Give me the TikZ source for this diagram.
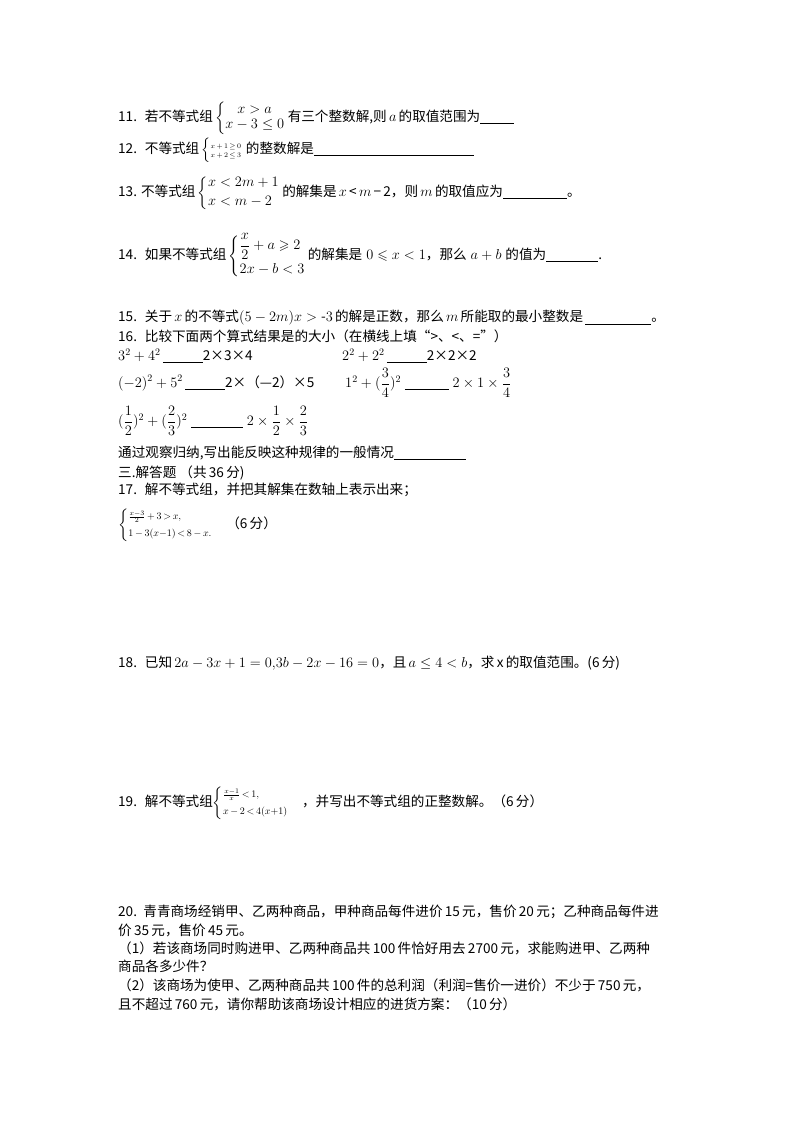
\documentclass[tikz,border=0pt]{standalone}
\usepackage{amsmath,amssymb}
\usepackage{fontspec}
\setmainfont{Noto Sans CJK SC}
\newcommand{\blank}[1]{\underline{\hspace{#1pt}}}
\begin{document}
\begin{tikzpicture}[x=1pt,y=-1pt,
  line/.style={anchor=west,inner sep=0pt,font=\fontsize{13.6}{15}\selectfont}]
\useasboundingbox (0,0) rectangle (800,1132);

\node[line] (q11) at (118,118) {11.\; 若不等式组\,$\left\{\begin{array}{@{}l@{}}\;\;\; x>a\\ x-3\le 0\end{array}\right.$\,有三个整数解,则\,$a$\,的取值范围为\blank{34}};
\node[line] (q12) at (118,150) {12.\; 不等式组\,$\left\{\begin{array}{@{}l@{}}\scriptscriptstyle x\,+\,1\,\ge\, 0\\[-6pt] \scriptscriptstyle x\,+\,2\,\le\, 3\end{array}\right.$\;的整数解是\blank{160}};
\node[line] (q13) at (118,193) {13. 不等式组\,$\left\{\begin{array}{@{}l@{}}x<2m+1\\[4pt] x<m-2\end{array}\right.$\,的解集是\,$x$\,<\,$m$\,−\,2，则\,$m$\,的取值应为\blank{64}。};
\node[line] (q14) at (118,256) {14.\; 如果不等式组\,$\left\{\begin{array}{@{}l@{}}\dfrac{x}{2}+a\geqslant 2\\[9pt] 2x-b<3\end{array}\right.$\,的解集是$\;0\leqslant x<1$，那么$\;a+b\;$的值为\blank{52}.};

\node[line] (q15) at (118,318) {15.\; 关于\,$x$\,的不等式$(5-2m)x>\text{-}3$\,的解是正数，那么\,$m$\,所能取的最小整数是\,\blank{66}。};
\node[line] (q16) at (118,336) {16.\; 比较下面两个算式结果是的大小（在横线上填“>、<、=”）};
\node[line] (r1a) at (118,356) {$3^2+4^2$\,\blank{40}2×3×4};
\node[line] (r1b) at (342,356) {$2^2+2^2$\,\blank{40}2×2×2};
\node[line] (r2a) at (118,383) {$(-2)^2+5^2$\,\blank{40}2×（—2）×5};
\node[line] (r2b) at (345,383) {$1^2+(\dfrac34)^2$\;\blank{44}\;$2\times1\times\dfrac34$};
\node[line] (r3) at (118,421) {$(\dfrac12)^2+(\dfrac23)^2$\;\blank{52}\;$2\times\dfrac12\times\dfrac23$};
\node[line] (q16b) at (118,453) {通过观察归纳,写出能反映这种规律的一般情况\blank{72}};
\node[line] (sec3) at (118,473) {三.解答题 （共\,36\,分)};
\node[line] (q17) at (118,490) {17.\; 解不等式组，并把其解集在数轴上表示出来；};
\node[line] (q17s) at (118,525) {$\left\{\begin{array}{@{}l@{}}\scriptstyle\frac{x-3}{2}\,+\,3\,>\,x,\\[2pt] \scriptstyle 1\,-\,3(x-1)\,<\,8\,-\,x.\end{array}\right.$\quad（6\,分）};

\node[line] (q18) at (118,663) {18.\; 已知\,$2a-3x+1=0{,}3b-2x-16=0$，且\,$a\le 4<b$，求\,x\,的取值范围。(6\,分)};

\node[line] (q19) at (118,803) {19.\; 解不等式组$\left\{\begin{array}{@{}l@{}}\scriptstyle\frac{x-1}{x}\,<\,1,\\[2pt] \scriptstyle x\,-\,2\,<\,4(x+1)\end{array}\right.$\quad ，并写出不等式组的正整数解。（6\,分）};

\node[line] (q20a) at (118,912) {20.\, 青青商场经销甲、乙两种商品，甲种商品每件进价\,15\,元，售价\,20\,元；乙种商品每件进};
\node[line] (q20b) at (118,930) {价\,35\,元，售价\,45\,元。};
\node[line] (q20c) at (118,948) {（1）若该商场同时购进甲、乙两种商品共\,100\,件恰好用去\,2700\,元，求能购进甲、乙两种};
\node[line] (q20d) at (118,966) {商品各多少件？};
\node[line] (q20e) at (118,985) {（2）该商场为使甲、乙两种商品共\,100\,件的总利润（利润=售价一进价）不少于\,750\,元，};
\node[line] (q20f) at (118,1004) {且不超过\,760\,元，请你帮助该商场设计相应的进货方案：（10\,分）};
\end{tikzpicture}
\end{document}
